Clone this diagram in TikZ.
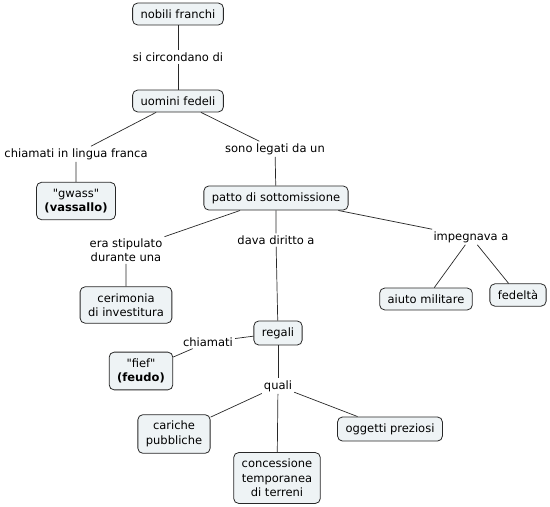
\documentclass[tikz,border=0pt]{standalone}
\usepackage{fontspec}
\setmainfont{DejaVu Sans}
\definecolor{cmapfill}{RGB}{238,243,245}
\definecolor{cmapline}{RGB}{40,40,40}
\tikzset{
  concept/.style={draw=cmapline, fill=cmapfill, line width=0.8pt, rounded corners=5pt,
    align=center, inner xsep=8pt, inner ysep=6.5pt},
  linkword/.style={align=center, inner xsep=2pt, inner ysep=2pt},
  conn/.style={draw=cmapline, line width=0.7pt}
}
\begin{document}
\begin{tikzpicture}[x=1pt, y=-1pt, font=\fontsize{11.5}{14.5}\selectfont]
  \useasboundingbox (0,0) rectangle (550,507);
  % concetti
  \node[concept] (nobili) at (178,14) {nobili franchi};
  \node[concept] (uomini) at (178,101) {uomini fedeli};
  \node[concept] (gwass) at (76,201) {\textquotedbl gwass\textquotedbl\\\textbf{(vassallo)}};
  \node[concept] (patto) at (276,198) {patto di sottomissione};
  \node[concept] (cerimonia) at (126,305) {cerimonia\\di investitura};
  \node[concept] (aiuto) at (426,299) {aiuto militare};
  \node[concept] (fedelta) at (518,295) {fedeltà};
  \node[concept] (regali) at (278,333) {regali};
  \node[concept] (fief) at (141,371) {\textquotedbl fief\textquotedbl\\\textbf{(feudo)}};
  \node[concept] (cariche) at (174,434) {cariche\\pubbliche};
  \node[concept] (oggetti) at (390,429) {oggetti preziosi};
  \node[concept] (concessione) at (277,478) {concessione\\temporanea\\di terreni};
  % parole di collegamento
  \node[linkword] (circondano) at (178,57) {si circondano di};
  \node[linkword] (lingua) at (76,154) {chiamati in lingua franca};
  \node[linkword] (legati) at (275,149) {sono legati da un};
  \node[linkword] (stipulato) at (126,250) {era stipulato\\durante una};
  \node[linkword] (diritto) at (276,240) {dava diritto a};
  \node[linkword] (impegnava) at (471,237) {impegnava a};
  \node[linkword] (chiamati) at (208,342) {chiamati};
  \node[linkword] (quali) at (278,386) {quali};
  % collegamenti
  \draw[conn] (nobili) -- (circondano) -- (uomini);
  \draw[conn] (uomini) -- (lingua) -- (gwass);
  \draw[conn] (uomini) -- (legati) -- (patto);
  \draw[conn] (patto) -- (stipulato) -- (cerimonia);
  \draw[conn] (patto) -- (diritto) -- (regali);
  \draw[conn] (patto) -- (impegnava);
  \draw[conn] (impegnava) -- (aiuto);
  \draw[conn] (impegnava) -- (fedelta);
  \draw[conn] (regali) -- (chiamati) -- (fief);
  \draw[conn] (regali) -- (quali);
  \draw[conn] (quali) -- (cariche);
  \draw[conn] (quali) -- (concessione);
  \draw[conn] (quali) -- (oggetti);
\end{tikzpicture}
\end{document}
